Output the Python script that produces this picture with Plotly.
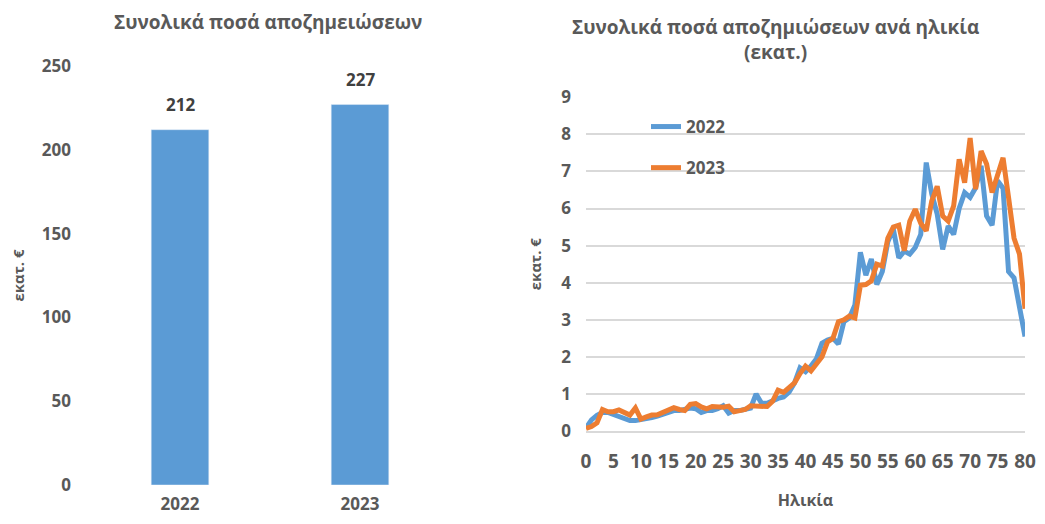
import plotly.graph_objects as go

# left chart: total compensation per year (million EUR)
years = ["2022", "2023"]
totals = [212, 227]

# right chart: compensation by age (million EUR)
ages = list(range(0, 81))
amounts_2022 = [
    0.08, 0.30, 0.42, 0.50, 0.50, 0.45, 0.38, 0.32, 0.28, 0.28,
    0.30, 0.33, 0.36, 0.40, 0.45, 0.52, 0.55, 0.55, 0.58, 0.62,
    0.60, 0.50, 0.55, 0.55, 0.60, 0.68, 0.48, 0.55, 0.55, 0.58,
    0.62, 1.00, 0.75, 0.75, 0.82, 0.88, 0.92, 1.05, 1.30, 1.70,
    1.60, 1.75, 1.95, 2.37, 2.45, 2.50, 2.35, 2.95, 3.05, 3.40,
    4.82, 4.20, 4.64, 3.95, 4.30, 5.10, 5.45, 4.67, 4.85, 4.77,
    4.95, 5.30, 7.24, 6.40, 5.85, 4.90, 5.53, 5.30, 6.00, 6.43,
    6.30, 6.56, 7.15, 5.80, 5.55, 6.75, 6.55, 4.30, 4.13, 3.33,
    2.55,
]
amounts_2023 = [
    0.07, 0.12, 0.22, 0.58, 0.52, 0.52, 0.57, 0.50, 0.43, 0.62,
    0.32, 0.38, 0.43, 0.44, 0.50, 0.57, 0.63, 0.58, 0.55, 0.72,
    0.74, 0.65, 0.60, 0.66, 0.64, 0.64, 0.67, 0.52, 0.55, 0.58,
    0.68, 0.68, 0.66, 0.66, 0.80, 1.10, 1.04, 1.15, 1.30, 1.55,
    1.75, 1.62, 1.80, 2.00, 2.40, 2.50, 2.95, 3.00, 3.10, 3.05,
    3.93, 3.95, 4.05, 4.50, 4.45, 5.20, 5.50, 5.55, 4.86, 5.66,
    5.98, 5.60, 5.40, 6.20, 6.60, 5.80, 5.66, 6.07, 7.33, 6.70,
    7.90, 6.52, 7.55, 7.20, 6.43, 6.92, 7.37, 6.30, 5.20, 4.77,
    3.30,
]

BLUE = "#5B9BD5"
ORANGE = "#ED7D31"
TXT = "#595959"
GRID = "#D9D9D9"
FONT = "Open Sans, Noto Sans, sans-serif"

# the page has an 8px body margin, so the figure sits 8px in from the corner
OFF = 8
W, H = 1045 - 2 * OFF, 524 - 2 * OFF


def px_x(x):
    return (x - OFF) / W


def px_y(y):
    return 1 - (y - OFF) / H


def bold(size, color=TXT):
    return dict(size=size, color=color, family=FONT, weight="bold")


fig = go.Figure()

fig.add_trace(go.Bar(
    x=years, y=totals,
    marker_color=BLUE,
    width=0.32,
    showlegend=False,
    xaxis="x", yaxis="y",
))

fig.add_trace(go.Scatter(
    x=ages, y=amounts_2022,
    mode="lines", name="2022",
    line=dict(color=BLUE, width=5),
    legendgroup="a",
    xaxis="x2", yaxis="y2",
))
fig.add_trace(go.Scatter(
    x=ages, y=amounts_2023,
    mode="lines", name="2023",
    line=dict(color=ORANGE, width=5),
    legendgroup="b",
    xaxis="x2", yaxis="y2",
))

# bar value labels
labels = [
    dict(x=i, y=v, xref="x", yref="y", text=str(v), showarrow=False,
         yanchor="bottom", yshift=12, font=bold(17, "#404040"))
    for i, v in enumerate(totals)
]

fig.update_layout(
    width=W, height=H,
    paper_bgcolor="white", plot_bgcolor="white",
    margin=dict(l=0, r=0, t=0, b=0),
    font=dict(family=FONT, color=TXT, size=16),
    xaxis=dict(
        type="category",
        range=[-0.5, 1.5],
        domain=[px_x(90), px_x(450)],
        showgrid=False, showline=False, zeroline=False,
        ticks="", tickfont=bold(17), anchor="y",
        ticklabelstandoff=7, automargin=False,
    ),
    yaxis=dict(
        domain=[px_y(485), px_y(66)],
        range=[0, 250], dtick=50,
        showgrid=False, showline=False, zeroline=False,
        tickfont=bold(17), anchor="x",
        ticklabelstandoff=18, automargin=False,
        title=dict(text="εκατ. €", font=bold(15), standoff=20),
    ),
    xaxis2=dict(
        domain=[px_x(586), px_x(1025)],
        range=[0, 80], dtick=5, tick0=0,
        showgrid=False, zeroline=False,
        showline=True, linecolor=GRID, linewidth=1.5,
        ticks="", tickfont=bold(19), anchor="y2",
        ticklabelstandoff=12, automargin=False,
        ticklabeloverflow="allow",
        title=dict(text="Ηλικία", font=bold(16), standoff=22),
    ),
    yaxis2=dict(
        domain=[px_y(431), px_y(97.3)],
        range=[0, 9], dtick=1,
        showgrid=True, gridcolor=GRID, gridwidth=1.5,
        showline=False, zeroline=False,
        tickfont=bold(17), anchor="x2",
        ticklabelstandoff=14, automargin=False,
        title=dict(text="εκατ. €", font=bold(15), standoff=16),
    ),
    legend=dict(
        x=px_x(646), y=px_y(109), xanchor="left", yanchor="top",
        bgcolor="rgba(0,0,0,0)",
        font=bold(17),
        traceorder="grouped", tracegroupgap=16,
    ),
    annotations=labels + [
        dict(text="Συνολικά ποσά αποζημειώσεων", x=px_x(268), y=px_y(22),
             xref="paper", yref="paper", showarrow=False,
             xanchor="center", yanchor="middle", font=bold(19)),
        dict(text="Συνολικά ποσά αποζημιώσεων ανά ηλικία<br>(εκατ.)",
             x=px_x(775), y=px_y(39),
             xref="paper", yref="paper", showarrow=False,
             xanchor="center", yanchor="middle", font=bold(19)),
    ],
)

fig.write_html("out.html")
